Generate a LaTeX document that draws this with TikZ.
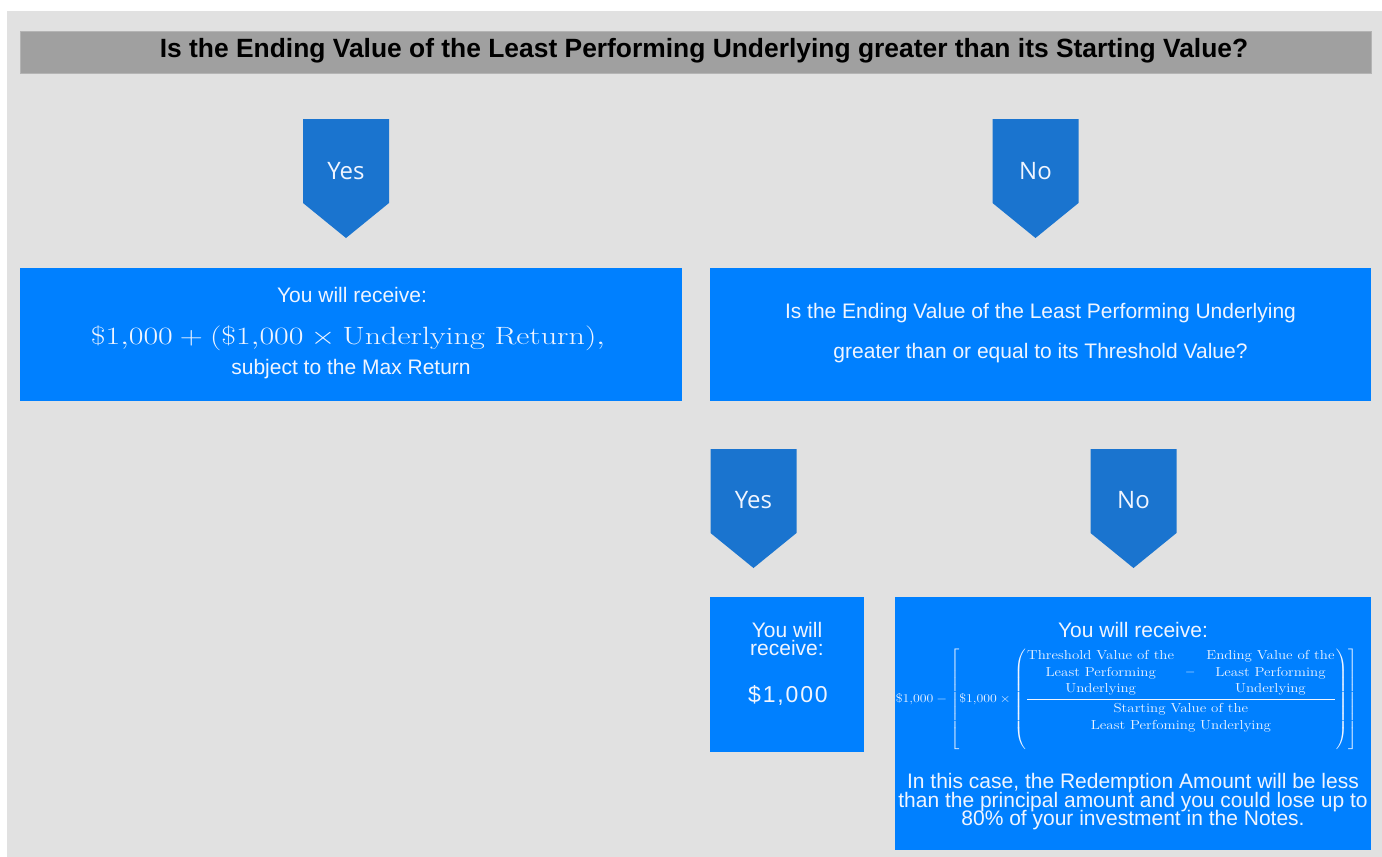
\documentclass[tikz,border=0pt]{standalone}
\usepackage{fontspec}
\usepackage{amsmath}
\newfontfamily\arial{Liberation Sans}
\newfontfamily\arialsp[LetterSpace=8]{Liberation Sans}
\newfontfamily\osans{Open Sans}
\newcommand\tightlines{\lineskiplimit=-20pt\relax}
\definecolor{bg}{HTML}{E1E1E1}
\definecolor{bar}{HTML}{A0A0A0}
\definecolor{barline}{HTML}{B4B4B4}
\definecolor{boxblue}{HTML}{0080FF}
\definecolor{chev}{HTML}{1A74CF}
\definecolor{txt}{HTML}{F0F5FF}
\newcommand\chevronat[2]{\fill[chev] (#1-43,#2) -- (#1+43,#2) -- (#1+43,#2+84) -- (#1,#2+119) -- (#1-43,#2+84) -- cycle;}
\begin{document}
\begin{tikzpicture}[x=1pt,y=-1pt,
  box/.style={fill=boxblue, draw=none, inner sep=0pt},
  chevlbl/.style={text=txt, font=\osans\fontsize{24}{28}\selectfont, inner sep=0pt},
  bodytxt/.style={text=txt, font=\arial\fontsize{21}{25}\selectfont, inner sep=0pt, align=center},
  titletxt/.style={text=black, font=\arial\bfseries\fontsize{26.4}{30}\selectfont, inner sep=0pt},
  mathtxt/.style={text=txt, inner sep=0pt}]
\useasboundingbox (0,0) rectangle (1382,857);
\fill[white] (0,0) rectangle (1382,857);
\fill[bg] (7,11) rectangle (1382,857);
\node[fill=bar, draw=barline, line width=1pt, minimum width=1351pt, minimum height=42pt, inner sep=0pt] (bar) at (695.5,52) {};
\node[titletxt] (title) at (704,51) {Is the Ending Value of the Least Performing Underlying greater than its Starting Value?};
% chevrons
\chevronat{346}{119}
\node[chevlbl] (yes1) at (346,171) {Yes};
\chevronat{1035.5}{119}
\node[chevlbl] (no1) at (1035.5,171) {No};
\chevronat{753.5}{449}
\node[chevlbl] (yes2) at (753.5,500) {Yes};
\chevronat{1133.5}{449}
\node[chevlbl] (no2) at (1133.5,500) {No};
% boxes
\node[box, minimum width=662pt, minimum height=133pt] (lbox) at (351,334.5) {};
\node[box, minimum width=661pt, minimum height=133pt] (rbox) at (1040.5,334.5) {};
\node[box, minimum width=154pt, minimum height=155pt] (blbox) at (787,674.5) {};
\node[box, minimum width=476pt, minimum height=253pt] (brbox) at (1133,723.5) {};
% left box text
\node[bodytxt] (l1) at (352,295) {You will receive:};
\node[mathtxt, font=\fontsize{25}{30}\selectfont] (l2) at (348,338) {\scalebox{1.285}[1]{$\$1{,}000 + (\$1{,}000 \times \mathrm{Underlying\ Return}),$}};
\node[bodytxt] (l3) at (351,369) {subject to the Max Return};
% right box text
\node[bodytxt] (r1) at (1040.5,313) {Is the Ending Value of the Least Performing Underlying};
\node[bodytxt] (r2) at (1040.5,353) {greater than or equal to its Threshold Value?};
% bottom left
\node[bodytxt, font={\arial\fontsize{21}{18}\selectfont\tightlines}] (bl1) at (787,639) {You will\\receive:};
\node[bodytxt, font=\arialsp\fontsize{23}{27}\selectfont] (bl2) at (788,695.5) {\$1,000};
% bottom right
\node[bodytxt] (br1) at (1133,630) {You will receive:};
\node[mathtxt, font=\fontsize{13}{16.5}\selectfont] (br2) at (1126.5,699) {\scalebox{1.15}[1]{$\$1{,}000 - \left[\$1{,}000\times\left(\dfrac{\begin{tabular}{@{}c@{}}Threshold Value of the\\Least Performing\\Underlying\end{tabular}\;\;-\;\;\begin{tabular}{@{}c@{}}Ending Value of the\\Least Performing\\Underlying\end{tabular}}{\begin{tabular}{@{}c@{}}Starting Value of the\\Least Perfoming Underlying\end{tabular}}\right)\right]$}};
\node[bodytxt, font={\arial\fontsize{21}{18.5}\selectfont\tightlines}] (br3) at (1133,802) {In this case, the Redemption Amount will be less\\than the principal amount and you could lose up to\\80\% of your investment in the Notes.};
\end{tikzpicture}
\end{document}
